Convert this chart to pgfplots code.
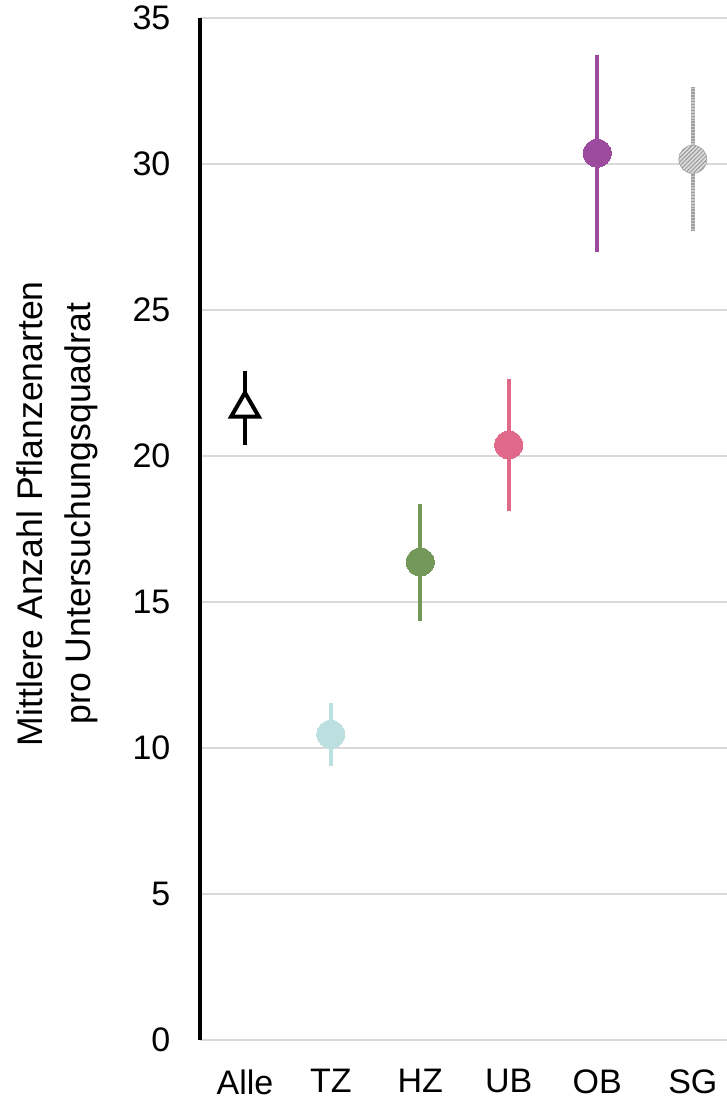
\documentclass[border=0pt]{standalone}
\usepackage{fontspec}
\setmainfont{Liberation Sans}
\usepackage{pgfplots}
\pgfplotsset{compat=1.18}
\usetikzlibrary{patterns.meta}
\definecolor{cTZ}{HTML}{BCE0E0}
\definecolor{cHZ}{HTML}{74975A}
\definecolor{cUB}{HTML}{E0698A}
\definecolor{cOB}{HTML}{9B4A9E}
\definecolor{cSG}{HTML}{A0A0A0}
\definecolor{gridc}{HTML}{D9D9D9}
\begin{document}
\begin{tikzpicture}
\useasboundingbox (0,0) rectangle (545.25pt,827.25pt);
\begin{axis}[
  at={(150pt,47.25pt)}, anchor=south west,
  scale only axis, width=395.25pt, height=766.5pt,
  xmin=-0.508, xmax=5.446, ymin=0, ymax=35,
  axis y line*=left, axis x line*=bottom,
  x axis line style={draw=none},
  y axis line style={black, line width=3pt},
  ytick={0,5,...,35},
  xtick={0,0.97,1.98,2.98,3.98,5.06},
  xticklabels={Alle,TZ,HZ,UB,OB,SG},
  major tick length=0pt,
  ymajorgrids, major grid style={gridc, line width=1.5pt},
  font=\fontsize{25.5}{30}\selectfont,
  /pgf/number format/assume math mode=true,
  yticklabel style={inner sep=0pt, anchor=east, xshift=-22pt},
  xticklabel style={inner sep=0pt, anchor=north, yshift=-22pt},
  every axis y label/.style={at={(axis description cs:-0.2713,0.515)}, rotate=90, anchor=center, align=center, font=\fontsize{26.7}{36}\selectfont},
  ylabel={Mittlere Anzahl Pflanzenarten\\pro Untersuchungsquadrat},
  clip=false,
]
% error bars
\addplot[black, line width=3.2pt] coordinates {(0,20.38) (0,22.92)};
\addplot[cTZ, line width=3.3pt] coordinates {(0.97,9.37) (0.97,11.53)};
\addplot[cHZ, line width=3.3pt] coordinates {(1.98,14.34) (1.98,18.36)};
\addplot[cUB, line width=3.3pt] coordinates {(2.98,18.12) (2.98,22.65)};
\addplot[cOB, line width=3.3pt] coordinates {(3.98,27.0) (3.98,33.73)};
\addplot[cSG!60, line width=3.3pt] coordinates {(5.06,27.69) (5.06,32.64)};
\addplot[cSG, line width=3.3pt, dash pattern=on 1.1pt off 1.1pt] coordinates {(5.06,27.69) (5.06,32.64)};
% markers
\addplot[only marks, black, mark=triangle*, mark size=12pt, mark options={fill=white, draw=black, line width=3pt}] coordinates {(0,21.62)};
\addplot[only marks, cTZ, mark=*, mark size=10.5pt, mark options={fill=cTZ, draw=cTZ, line width=0pt}] coordinates {(0.97,10.47)};
\addplot[only marks, cHZ, mark=*, mark size=10.5pt, mark options={fill=cHZ, draw=cHZ, line width=0pt}] coordinates {(1.98,16.37)};
\addplot[only marks, cUB, mark=*, mark size=10.5pt, mark options={fill=cUB, draw=cUB, line width=0pt}] coordinates {(2.98,20.38)};
\addplot[only marks, cOB, mark=*, mark size=10.5pt, mark options={fill=cOB, draw=cOB, line width=0pt}] coordinates {(3.98,30.37)};
\addplot[only marks, white, mark=*, mark size=10.5pt, mark options={fill=cSG!35, draw=cSG!35, line width=0pt}] coordinates {(5.06,30.16)};
\addplot[only marks, cSG, mark=*, mark size=10.5pt, mark options={draw=none, pattern={Lines[angle=45,distance=2.2pt,line width=0.9pt]}, pattern color=cSG}] coordinates {(5.06,30.16)};
\end{axis}
\end{tikzpicture}
\end{document}
